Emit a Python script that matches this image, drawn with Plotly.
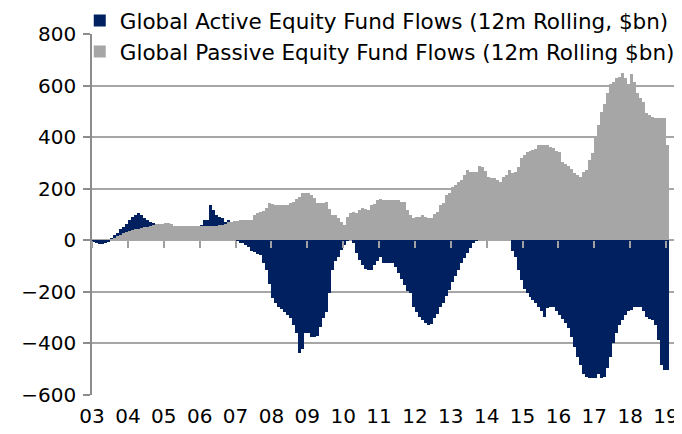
import numpy as np
import plotly.graph_objects as go

# Monthly values, Jan 2003 .. Jan 2019 (12m rolling, $bn)
active_2003 = [-5, -12, -14, -14, -12, -8, 10, 20, 30, 42, 52, 65]
active_2004 = [78, 90, 98, 104, 98, 88, 80, 72, 66, 62, 55, 50]
active_2005 = [45, 45, 48, 50, 48, 45, 42, 45, 48, 50, 50, 52]
active_2006 = [60, 78, 80, 136, 118, 100, 90, 86, 72, 78, 50, 40]
active_2007 = [5, -12, -12, -20, -27, -40, -47, -55, -58, -90, -116, -170]
active_2008 = [-225, -245, -258, -265, -278, -290, -302, -330, -360, -438, -420, -360]
active_2009 = [-360, -375, -375, -372, -337, -300, -279, -205, -116, -80, -66, -39]
active_2010 = [-19, 5, 10, -10, -50, -78, -95, -110, -116, -116, -97, -80]
active_2011 = [-66, -90, -90, -90, -90, -103, -128, -150, -175, -195, -205, -258]
active_2012 = [-280, -297, -310, -322, -330, -325, -300, -285, -260, -245, -215, -193]
active_2013 = [-160, -140, -115, -90, -70, -50, -30, -10, 5, 15, 20, 25]
active_2014 = [30, 35, 40, 35, 30, 20, 10, 0, -40, -65, -115, -155]
active_2015 = [-187, -206, -220, -232, -245, -258, -275, -297, -262, -260, -260, -275]
active_2016 = [-290, -305, -322, -341, -375, -414, -453, -484, -517, -530, -535, -535]
active_2017 = [-535, -517, -535, -530, -497, -453, -400, -360, -330, -310, -290, -275]
active_2018 = [-271, -258, -258, -258, -275, -297, -305, -310, -330, -388, -484, -504]
active_2019 = [-504]

passive_2003 = [0, 0, 0, 0, 0, 0, 5, 10, 15, 22, 28, 32]
passive_2004 = [35, 38, 42, 45, 48, 50, 52, 55, 58, 62, 64, 64]
passive_2005 = [66, 66, 65, 55, 55, 55, 55, 55, 55, 55, 55, 55]
passive_2006 = [55, 55, 55, 55, 55, 55, 58, 60, 65, 70, 72, 75]
passive_2007 = [75, 80, 80, 80, 80, 80, 97, 105, 109, 112, 125, 143]
passive_2008 = [140, 136, 136, 136, 138, 138, 145, 147, 160, 167, 182, 182]
passive_2009 = [182, 174, 163, 143, 143, 143, 147, 120, 100, 97, 85, 70]
passive_2010 = [58, 89, 105, 109, 105, 116, 124, 120, 116, 136, 140, 155]
passive_2011 = [160, 155, 155, 155, 155, 155, 155, 150, 147, 116, 100, 85]
passive_2012 = [89, 89, 97, 90, 85, 85, 103, 109, 136, 143, 174, 182]
passive_2013 = [205, 213, 225, 233, 252, 271, 264, 264, 264, 290, 283, 270]
passive_2014 = [244, 240, 240, 232, 225, 244, 252, 271, 260, 265, 283, 318]
passive_2015 = [330, 341, 345, 349, 355, 368, 368, 368, 368, 360, 356, 345]
passive_2016 = [341, 302, 295, 290, 275, 260, 252, 244, 264, 271, 310, 340]
passive_2017 = [400, 446, 496, 530, 570, 608, 615, 628, 632, 647, 630, 608]
passive_2018 = [643, 612, 570, 550, 535, 492, 485, 477, 473, 473, 473, 473]
passive_2019 = [368]

year_labels = ["03", "04", "05", "06", "07", "08", "09", "10", "11",
               "12", "13", "14", "15", "16", "17", "18", "19"]
y_ticks = [-600, -400, -200, 0, 200, 400, 600, 800]

active = (active_2003 + active_2004 + active_2005 + active_2006 + active_2007 +
          active_2008 + active_2009 + active_2010 + active_2011 + active_2012 +
          active_2013 + active_2014 + active_2015 + active_2016 + active_2017 +
          active_2018 + active_2019)
passive = (passive_2003 + passive_2004 + passive_2005 + passive_2006 + passive_2007 +
           passive_2008 + passive_2009 + passive_2010 + passive_2011 + passive_2012 +
           passive_2013 + passive_2014 + passive_2015 + passive_2016 + passive_2017 +
           passive_2018 + passive_2019)

n = len(active)
xm = np.arange(n) + 0.5
year_pos = [12 * i for i in range(len(year_labels))]

NAVY = "#002060"
GREY = "#A6A6A6"
FONT = "DejaVu Sans"

fig = go.Figure()
fig.add_bar(x=xm, y=active, width=1.0, name="Global Active Equity Fund Flows (12m Rolling, $bn)",
            marker=dict(color=NAVY, line=dict(width=0)), xaxis="x", yaxis="y")
fig.add_bar(x=xm, y=passive, width=1.0, name="Global Passive Equity Fund Flows (12m Rolling $bn)",
            marker=dict(color=GREY, line=dict(width=0)), xaxis="x2", yaxis="y")

XR = [0, 195]
# the page adds an 8px body margin, so the figure is 8px smaller than the window
fig.update_layout(
    width=674, height=426,
    margin=dict(l=84, r=7, t=26, b=39, autoexpand=False),
    paper_bgcolor="white", plot_bgcolor="white",
    barmode="overlay", bargap=0,
    font=dict(family=FONT, size=20, color="#000000"),
    showlegend=True,
    legend=dict(x=-0.021, y=1.094, xanchor="left", yanchor="top",
                bgcolor="rgba(0,0,0,0)", font=dict(family=FONT, size=21.5, color="#000000"),
                traceorder="normal", itemwidth=30, tracegroupgap=0),
    xaxis=dict(range=XR, anchor="free", position=600 / 1400, showgrid=False,
               zeroline=False, showline=False, tickmode="array", tickvals=year_pos,
               showticklabels=False, ticks="outside", ticklen=7, tickwidth=1.5,
               tickcolor="#A0A0A0"),
    xaxis2=dict(range=XR, overlaying="x", anchor="y", side="bottom", showgrid=False,
                zeroline=False, showline=False, tickmode="array", tickvals=year_pos,
                ticktext=year_labels, ticks="", ticklabelstandoff=7,
                tickfont=dict(family=FONT, size=20, color="#000000")),
    yaxis=dict(range=[-600, 800], tickmode="array", tickvals=y_ticks,
               showgrid=True, gridcolor="#A6A6A6", gridwidth=1.5,
               zeroline=True, zerolinecolor="#A6A6A6", zerolinewidth=1.5,
               showline=True, linecolor="#8C8C8C", linewidth=1.5,
               ticks="outside", ticklen=7, tickwidth=1.5, tickcolor="#8C8C8C",
               ticklabelstandoff=3,
               tickfont=dict(family=FONT, size=20, color="#000000")),
)

fig.write_html("out.html")
